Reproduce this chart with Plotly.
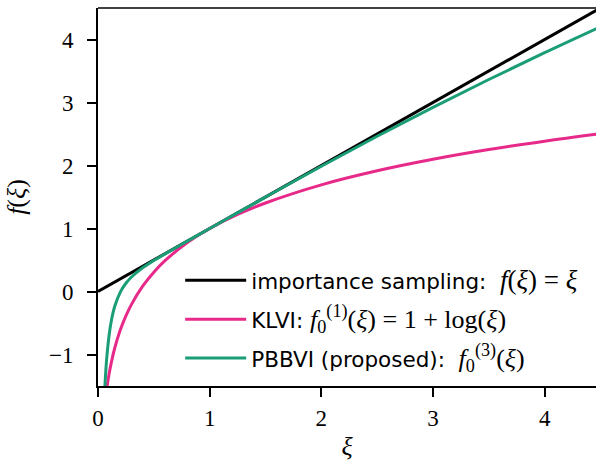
import plotly.graph_objects as go

# importance sampling: f(xi) = xi
x_is = [0.0, 1.0, 2.0, 3.0, 4.0, 4.5]
y_is = [0.0, 1.0, 2.0, 3.0, 4.0, 4.5]

# KLVI: 1 + log(xi)
x_kl = [0.082, 0.1, 0.12, 0.15, 0.2, 0.25, 0.3, 0.4, 0.5, 0.6, 0.8, 1.0, 1.25, 1.5, 2.0, 2.5, 3.0, 3.5, 4.0, 4.5]
y_kl = [-1.5, -1.303, -1.12, -0.897, -0.609, -0.386, -0.204, 0.084, 0.307, 0.489, 0.777, 1.0, 1.223, 1.405, 1.693, 1.916, 2.099, 2.253, 2.386, 2.504]

# PBBVI f_0^(3)
x_pb = [0.062, 0.07, 0.08, 0.1, 0.12, 0.15, 0.2, 0.25, 0.3, 0.4, 0.5, 0.6, 0.8, 1.0, 1.5, 2.0, 2.5, 3.0, 3.5, 4.0, 4.5]
y_pb = [-1.5, -1.257, -1.022, -0.687, -0.461, -0.235, -0.009, 0.131, 0.230, 0.376, 0.492, 0.597, 0.800, 1.0, 1.498, 1.989, 2.464, 2.923, 3.365, 3.791, 4.202]

x_ticks = [0, 1, 2, 3, 4]
y_ticks = [-1, 0, 1, 2, 3, 4]

SERIF = "Liberation Serif"
SANS = "DejaVu Sans"

def m(s, size=26):
    return f"<span style=\"font-family:'{SERIF}';font-size:{size}px\">{s}</span>"

NB = "\u00a0"
labels = [
    "importance sampling:" + NB * 2 + m(f"<i>f</i>(<i>ξ</i>){NB}={NB}<i>ξ</i>", 27),
    "KLVI:" + NB + m(f"<i>f</i><sub>0</sub><sup>(1)</sup>(<i>ξ</i>){NB}={NB}1{NB}+{NB}log(<i>ξ</i>)"),
    "PBBVI (proposed):" + NB * 2 + m("<i>f</i><sub>0</sub><sup>(3)</sup>(<i>ξ</i>)"),
]

fig = go.Figure()
fig.add_trace(go.Scatter(x=x_is, y=y_is, mode="lines", name=labels[0], legendgroup="a",
                         line=dict(color="#000000", width=3)))
fig.add_trace(go.Scatter(x=x_kl, y=y_kl, mode="lines", name=labels[1], legendgroup="b",
                         line=dict(color="#e7298a", width=3, shape="spline")))
fig.add_trace(go.Scatter(x=x_pb, y=y_pb, mode="lines", name=labels[2], legendgroup="c",
                         line=dict(color="#1b9e77", width=3, shape="spline")))

axis_common = dict(
    showgrid=False, zeroline=False, showline=True, linecolor="black", linewidth=1.6,
    ticks="outside", ticklen=9, tickwidth=1.6, tickcolor="black",
    tickfont=dict(family=SERIF, size=23, color="black"),
)

fig.update_layout(
    width=596, height=461,
    margin=dict(l=98, r=0, t=8, b=75),
    plot_bgcolor="white", paper_bgcolor="white",
    xaxis=dict(range=[0, 4.46], tickvals=x_ticks, ticktext=[str(v) for v in x_ticks],
               ticklabelstandoff=2,
               title=dict(text="<i>ξ</i>", font=dict(family=SERIF, size=26, color="black"), standoff=8),
               **axis_common),
    yaxis=dict(range=[-1.5, 4.5], tickvals=y_ticks,
               ticktext=[("−" + str(-v)) if v < 0 else str(v) for v in y_ticks],
               ticklabelstandoff=9,
               title=dict(text="<i>f</i>(<i>ξ</i>)", font=dict(family=SERIF, size=26, color="black"), standoff=16),
               **axis_common),
    legend=dict(x=0.165, y=0.334, xanchor="left", yanchor="top", bgcolor="rgba(0,0,0,0)",
                font=dict(family=SANS, size=21.5, color="black"), itemwidth=61, tracegroupgap=8),
    showlegend=True,
    shapes=[dict(type="line", xref="paper", yref="paper", x0=0, x1=1, y0=1, y1=1,
                 line=dict(color="black", width=1.6))],
)

fig.write_html("out.html", config={"displayModeBar": False},
               post_script="document.body.style.margin='0px';")
